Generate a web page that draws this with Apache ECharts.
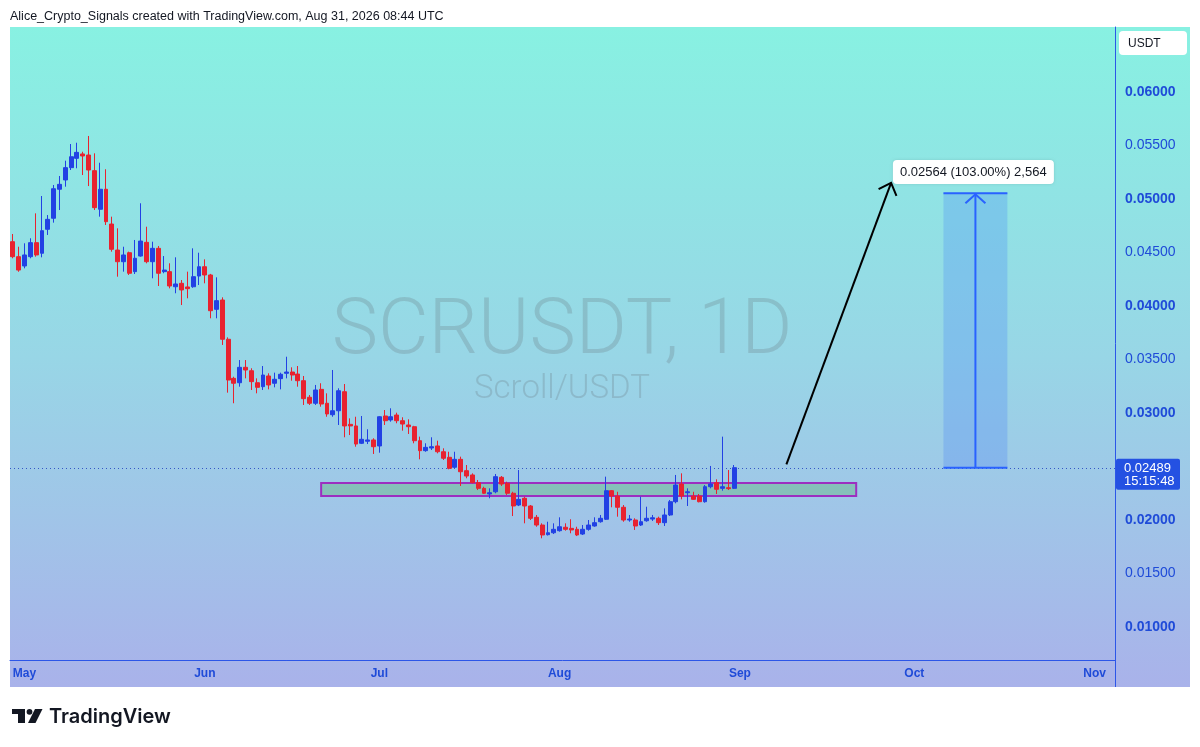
<!DOCTYPE html>
<html><head><meta charset="utf-8">
<script src="https://cdn.jsdelivr.net/npm/echarts@6/dist/echarts.min.js"></script>
<style>html,body{margin:0;padding:0;background:#fff}#c{width:1200px;height:747px}</style>
</head><body><div id="c"></div>
<script>
// ---- data ----
const startDate = [2026, 3, 29];   // Apr 29 2026 (month 0-based)
const dayCount = 190;              // categories on the time axis (through early Nov)
const monthNames = ['Jan','Feb','Mar','Apr','May','Jun','Jul','Aug','Sep','Oct','Nov','Dec'];

const opens = [0.04601,0.04461,0.04374,0.04461,0.04592,0.04493,0.04717,0.04820,0.05091,0.05178,
0.05293,0.05380,0.05421,0.05411,0.05265,0.04904,0.05091,0.04766,0.04523,0.04414,
0.04498,0.04321,0.04467,0.04595,0.04414,0.04539,0.04321,0.04321,0.04180,0.04212,
0.04178,0.04180,0.04280,0.04367,0.04290,0.03969,0.04056,0.03689,0.03324,0.03283,
0.03427,0.03395,0.03283,0.03246,0.03346,0.03278,0.03321,0.03371,0.03383,0.03364,
0.03302,0.03147,0.03091,0.03221,0.03091,0.02984,0.03021,0.03199,0.02894,0.02879,
0.02717,0.02736,0.02748,0.02692,0.02972,0.02935,0.02981,0.02928,0.02888,0.02872,
0.02741,0.02648,0.02673,0.02692,0.02638,0.02586,0.02493,0.02567,0.02461,0.02421,
0.02349,0.02296,0.02243,0.02264,0.02399,0.02343,0.02250,0.02140,0.02203,0.02131,
0.02025,0.01953,0.01863,0.01881,0.01900,0.01932,0.01922,0.01913,0.01869,0.01913,
0.01944,0.01984,0.02007,0.02274,0.02224,0.02119,0.02000,0.02000,0.01953,0.01993,
0.02009,0.02016,0.01975,0.02047,0.02171,0.02336,0.02255,0.02224,0.02224,0.02171,
0.02311,0.02349,0.02296,0.02302,0.02296];
const closes = [0.04461,0.04336,0.04477,0.04592,0.04477,0.04704,0.04810,0.05096,0.05137,0.05293,
0.05395,0.05436,0.05402,0.05271,0.04919,0.05091,0.04788,0.04530,0.04414,0.04477,
0.04306,0.04446,0.04607,0.04414,0.04539,0.04306,0.04336,0.04187,0.04206,0.04150,
0.04162,0.04274,0.04367,0.04290,0.03956,0.04050,0.03689,0.03308,0.03278,0.03427,
0.03402,0.03293,0.03240,0.03355,0.03262,0.03315,0.03362,0.03383,0.03355,0.03302,
0.03134,0.03091,0.03215,0.03084,0.02991,0.03021,0.03208,0.02879,0.02879,0.02710,
0.02754,0.02748,0.02685,0.02965,0.02928,0.02965,0.02928,0.02897,0.02872,0.02741,
0.02648,0.02679,0.02685,0.02638,0.02577,0.02483,0.02567,0.02451,0.02411,0.02349,
0.02296,0.02250,0.02255,0.02405,0.02336,0.02250,0.02131,0.02193,0.02131,0.02016,
0.01953,0.01860,0.01881,0.01913,0.01937,0.01913,0.01907,0.01860,0.01913,0.01953,
0.01975,0.02016,0.02274,0.02224,0.02119,0.02000,0.02009,0.01944,0.01984,0.02016,
0.02021,0.01975,0.02047,0.02171,0.02327,0.02224,0.02264,0.02193,0.02171,0.02311,
0.02336,0.02287,0.02311,0.02293,0.02489];
const lows = [0.04446,0.04320,0.04352,0.04446,0.04461,0.04455,0.04664,0.04779,0.04897,0.05115,
0.05271,0.05287,0.05224,0.05121,0.04897,0.04835,0.04757,0.04508,0.04274,0.04321,
0.04290,0.04299,0.04461,0.04399,0.04259,0.04187,0.04306,0.04165,0.04119,0.04009,
0.04072,0.04170,0.04196,0.04212,0.03885,0.03885,0.03636,0.03190,0.03091,0.03246,
0.03324,0.03215,0.03184,0.03215,0.03221,0.03240,0.03221,0.03324,0.03302,0.03246,
0.03075,0.03075,0.03075,0.03059,0.02965,0.02965,0.02888,0.02773,0.02794,0.02685,
0.02710,0.02710,0.02617,0.02629,0.02888,0.02919,0.02904,0.02835,0.02804,0.02717,
0.02567,0.02638,0.02654,0.02623,0.02561,0.02474,0.02483,0.02318,0.02390,0.02343,
0.02280,0.02243,0.02203,0.02250,0.02318,0.02234,0.02037,0.02130,0.01969,0.02000,
0.01937,0.01829,0.01855,0.01869,0.01891,0.01900,0.01876,0.01850,0.01860,0.01900,
0.01937,0.01975,0.02000,0.02119,0.02031,0.01984,0.01984,0.01907,0.01944,0.01984,
0.01991,0.01953,0.01944,0.02037,0.02156,0.02193,0.02131,0.02187,0.02165,0.02162,
0.02296,0.02243,0.02274,0.02280,0.02290];
const highs = [0.04673,0.04554,0.04586,0.04633,0.04866,0.05028,0.04850,0.05131,0.05215,0.05358,
0.05514,0.05526,0.05442,0.05589,0.05427,0.05339,0.05278,0.04835,0.04726,0.04554,
0.04508,0.04617,0.04960,0.04741,0.04601,0.04561,0.04467,0.04399,0.04455,0.04243,
0.04321,0.04539,0.04498,0.04436,0.04300,0.04268,0.04081,0.03707,0.03339,0.03495,
0.03495,0.03418,0.03324,0.03439,0.03371,0.03377,0.03377,0.03526,0.03427,0.03439,
0.03346,0.03168,0.03262,0.03278,0.03184,0.03402,0.03231,0.03271,0.02950,0.02965,
0.02972,0.02848,0.02764,0.02970,0.03028,0.03044,0.03003,0.02960,0.02941,0.02880,
0.02779,0.02717,0.02773,0.02741,0.02670,0.02638,0.02638,0.02592,0.02514,0.02436,
0.02374,0.02311,0.02296,0.02430,0.02411,0.02358,0.02264,0.02467,0.02218,0.02140,
0.02047,0.01969,0.01984,0.01969,0.02025,0.01969,0.02007,0.01937,0.01953,0.02000,
0.02025,0.02047,0.02405,0.02280,0.02264,0.02140,0.02047,0.02016,0.02218,0.02124,
0.02047,0.02031,0.02109,0.02187,0.02421,0.02436,0.02296,0.02264,0.02243,0.02327,
0.02505,0.02380,0.02779,0.02467,0.02514];

const priceTicks = [0.010,0.015,0.020,0.030,0.035,0.040,0.045,0.050,0.055,0.060];
const priceRange = [0.006916, 0.066075];
const lastPrice = 0.02489;
const countdown = '15:15:48';
const quoteUnit = 'USDT';

// drawings (in chart coordinates)
const zoneX = ['2026-06-21', '2026-09-21'];
const zoneY = [0.02224, 0.02346];
const arrowX = ['2026-09-09', '2026-09-27'];
const arrowY = [0.02520, 0.05150];
const measureX = ['2026-10-06', '2026-10-17'];
const measureY = [0.02489, 0.05053];
const measureText = '0.02564 (103.00%) 2,564';
const measureLabelAt = ['2026-09-28', 0.05364];

const headerText = 'Alice_Crypto_Signals created with TradingView.com, Aug 31, 2026 08:44 UTC';
const wmTitle = 'SCRUSDT, 1D';
const wmSub = 'Scroll/USDT';

// ---- build ----
const dates = [];
const d0 = Date.UTC(startDate[0], startDate[1], startDate[2]);
for (let i = 0; i < dayCount; i++) dates.push(new Date(d0 + i * 86400000).toISOString().slice(0, 10));
const candleData = opens.map((o, i) => [o, closes[i], lows[i], highs[i]]);

const RED = '#e8222f', BLUE = '#2241e4', AXIS = '#2c56e8', LBL = '#1f4bd8';
const FONT = 'Liberation Sans, Arial, sans-serif';

const chart = echarts.init(document.getElementById('c'));
chart.setOption({
  animation: false,
  grid: { left: 10, right: 85, top: 27, bottom: 87 },
  xAxis: {
    type: 'category', data: dates, boundaryGap: true,
    axisLine: { show: true, lineStyle: { color: AXIS, width: 1 } },
    axisTick: { show: false }, splitLine: { show: false },
    axisLabel: {
      interval: (i, v) => v.slice(8) === '01',
      formatter: v => monthNames[+v.slice(5, 7) - 1],
      color: LBL, fontWeight: 'bold', fontSize: 12, margin: 8, fontFamily: FONT
    }
  },
  yAxis: {
    type: 'value', position: 'right', min: priceRange[0], max: priceRange[1],
    axisLine: { show: true, lineStyle: { color: AXIS, width: 1 } },
    axisTick: { show: false }, splitLine: { show: false },
    axisLabel: {
      customValues: priceTicks,
      margin: 10, align: 'left',
      formatter: v => {
        const major = Math.abs(v * 100 - Math.round(v * 100)) < 1e-6;
        return (major ? '{b|' : '{n|') + v.toFixed(5) + '}';
      },
      rich: {
        b: { fontWeight: 'bold', color: LBL, fontSize: 14, fontFamily: FONT },
        n: { fontWeight: 'normal', color: LBL, fontSize: 14, fontFamily: FONT }
      }
    }
  },
  series: [{
    type: 'candlestick', data: candleData, barWidth: '76%', z: 5,
    itemStyle: { color: BLUE, color0: RED, borderColor: BLUE, borderColor0: RED, borderWidth: 1 }
  }]
});

const P = (x, y) => chart.convertToPixel({ seriesIndex: 0 }, [x, y]);
const els = [];
// background gradient
els.push({ type: 'rect', z: -10, shape: { x: 10, y: 27, width: 1180, height: 660 },
  style: { fill: new echarts.graphic.LinearGradient(0, 0, 0, 1, [
    { offset: 0, color: '#88f1e2' }, { offset: 0.5, color: '#98d6e6' }, { offset: 1, color: '#a9b2ea' }]) } });
els.push({ type: 'line', z: 3, shape: { x1: 1115.5, y1: 660, x2: 1115.5, y2: 687 }, style: { stroke: AXIS, lineWidth: 1 } });
// last price dotted line
{
  const p = P(dates[0], lastPrice);
  const yy = Math.round(p[1]) + 0.5;
  els.push({ type: 'line', z: 3, shape: { x1: 10, y1: yy, x2: 1115, y2: yy }, style: { stroke: '#3456c6', lineWidth: 1, lineDash: [1, 3] } });
}
// header
els.push({ type: 'text', x: 10, y: 17, style: { text: headerText, fontSize: 12.5, fontFamily: FONT, fill: '#131722', verticalAlign: 'middle' } });
// watermark
els.push({ type: 'text', z: -5, x: 562, y: 333, style: { text: wmTitle, fontSize: 78, fontFamily: 'Roboto', fontWeight: 300, fill: 'rgba(100,110,120,0.25)', align: 'center', verticalAlign: 'middle' } });
els.push({ type: 'text', z: -5, x: 562, y: 390, style: { text: wmSub, fontSize: 33, fontFamily: 'Roboto', fontWeight: 300, fill: 'rgba(100,110,120,0.25)', align: 'center', verticalAlign: 'middle' } });
// zone rectangle
{
  const a = P(zoneX[0], zoneY[1]), b = P(zoneX[1], zoneY[0]);
  els.push({ type: 'rect', z: 1, shape: { x: a[0], y: a[1], width: b[0] - a[0], height: b[1] - a[1] },
    style: { fill: 'rgba(76,175,80,0.3)', stroke: '#9c2fc0', lineWidth: 2 } });
}
// arrow
{
  const s = P(arrowX[0], arrowY[0]), e = P(arrowX[1], arrowY[1]);
  const ang = Math.atan2(s[1] - e[1], s[0] - e[0]), L = 14, w = 0.75;
  els.push({ type: 'line', z: 10, shape: { x1: s[0], y1: s[1], x2: e[0], y2: e[1] }, style: { stroke: '#000', lineWidth: 2 } });
  els.push({ type: 'polyline', z: 10, shape: { points: [
    [e[0] + L * Math.cos(ang + w), e[1] + L * Math.sin(ang + w)], e,
    [e[0] + L * Math.cos(ang - w), e[1] + L * Math.sin(ang - w)]] }, style: { stroke: '#000', lineWidth: 2, fill: null } });
}
// price range measure
{
  const a = P(measureX[0], measureY[1]), b = P(measureX[1], measureY[0]);
  const cx = (a[0] + b[0]) / 2;
  els.push({ type: 'rect', z: 10, shape: { x: a[0], y: a[1], width: b[0] - a[0], height: b[1] - a[1] }, style: { fill: 'rgba(41,98,255,0.2)' } });
  els.push({ type: 'line', z: 11, shape: { x1: a[0], y1: a[1], x2: b[0], y2: a[1] }, style: { stroke: '#2962ff', lineWidth: 2 } });
  els.push({ type: 'line', z: 11, shape: { x1: a[0], y1: b[1], x2: b[0], y2: b[1] }, style: { stroke: '#2962ff', lineWidth: 2 } });
  els.push({ type: 'line', z: 11, shape: { x1: cx, y1: b[1], x2: cx, y2: a[1] + 1 }, style: { stroke: '#2962ff', lineWidth: 2 } });
  els.push({ type: 'polyline', z: 11, shape: { points: [[cx - 10, a[1] + 10], [cx, a[1] + 1], [cx + 10, a[1] + 10]] }, style: { stroke: '#2962ff', lineWidth: 2, fill: null } });
  const l = P(measureLabelAt[0], measureLabelAt[1]);
  els.push({ type: 'rect', z: 12, shape: { x: l[0] - 4, y: l[1], width: 161, height: 24, r: 4 },
    style: { fill: '#ffffff', shadowBlur: 3, shadowColor: 'rgba(0,0,0,0.12)' } });
  els.push({ type: 'text', z: 13, x: l[0] + 3, y: l[1] + 12, style: { text: measureText, fontSize: 13, fontFamily: FONT, fill: '#131722', verticalAlign: 'middle' } });
}
// axis: quote unit box
els.push({ type: 'rect', z: 12, shape: { x: 1119, y: 31, width: 68, height: 24, r: 4 }, style: { fill: '#ffffff' } });
els.push({ type: 'text', z: 13, x: 1128, y: 43.5, style: { text: quoteUnit, fontSize: 12, fontFamily: FONT, fill: '#131722', verticalAlign: 'middle' } });
// axis: last price label
{
  const p = P(dates[0], lastPrice);
  els.push({ type: 'rect', z: 12, shape: { x: 1116, y: p[1] - 9, width: 64, height: 31, r: 2 }, style: { fill: '#2451e2' } });
  els.push({ type: 'text', z: 13, x: 1124, y: p[1] + 0.5, style: { text: lastPrice.toFixed(5), fontSize: 13, fontFamily: FONT, fill: '#ffffff', verticalAlign: 'middle' } });
  els.push({ type: 'text', z: 13, x: 1124, y: p[1] + 14, style: { text: countdown, fontSize: 13, fontFamily: FONT, fill: '#ffffff', verticalAlign: 'middle' } });
}
// footer logo + wordmark
els.push({ type: 'rect', shape: { x: 12, y: 709, width: 13, height: 5 }, style: { fill: '#131722' } });
els.push({ type: 'rect', shape: { x: 18, y: 709, width: 7, height: 14 }, style: { fill: '#131722' } });
els.push({ type: 'circle', shape: { cx: 29.5, cy: 711.8, r: 2.9 }, style: { fill: '#131722' } });
els.push({ type: 'polygon', shape: { points: [[35, 709], [42.5, 709], [35.5, 723], [28, 723]] }, style: { fill: '#131722' } });
els.push({ type: 'text', x: 49, y: 717, style: { text: 'TradingView', fontSize: 20, fontWeight: 600, fontFamily: 'Inter, sans-serif', fill: '#131722', verticalAlign: 'middle' } });

chart.setOption({ graphic: { elements: els } });
</script>
</body></html>
